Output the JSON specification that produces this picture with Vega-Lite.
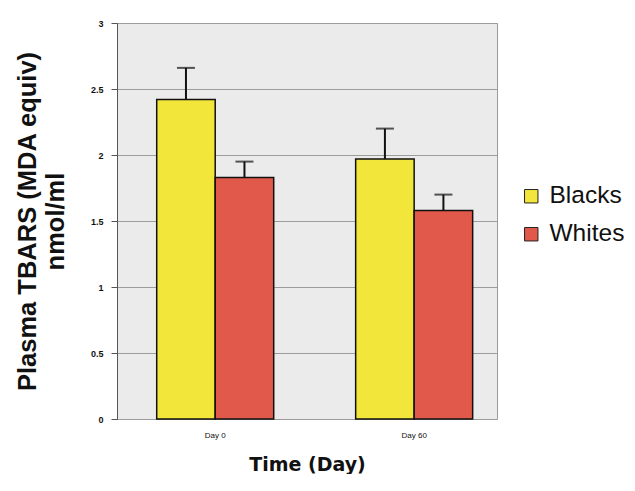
{
  "$schema": "https://vega.github.io/schema/vega-lite/v6.json",
  "width": 380,
  "height": 396,
  "padding": {"left": 15, "top": 19, "right": 0, "bottom": 0},
  "background": "white",
  "config": {
    "font": "Liberation Sans",
    "view": {"fill": "#ebebeb", "stroke": "#9a9a9a", "strokeWidth": 1}
  },
  "data": {
    "values": [
      {"day": "Day 0", "group": "Blacks", "mean": 2.42, "upper": 2.66},
      {"day": "Day 0", "group": "Whites", "mean": 1.83, "upper": 1.95},
      {"day": "Day 60", "group": "Blacks", "mean": 1.97, "upper": 2.2},
      {"day": "Day 60", "group": "Whites", "mean": 1.58, "upper": 1.7}
    ]
  },
  "encoding": {
    "x": {
      "field": "day",
      "type": "nominal",
      "scale": {"paddingInner": 0.412, "paddingOuter": 0.161, "align": 0.62},
      "axis": {
        "title": "Time (Day)",
        "titleFont": "DejaVu Sans",
        "titleFontSize": 19,
        "titleFontWeight": "bold",
        "titleColor": "#111",
        "titlePadding": 16,
        "labelAngle": 0,
        "labelFontSize": 8,
        "labelColor": "#111",
        "labelPadding": 12,
        "ticks": false,
        "domain": false
      }
    },
    "xOffset": {"field": "group", "type": "nominal", "scale": {"paddingInner": 0}}
  },
  "layer": [
    {
      "mark": {"type": "bar", "stroke": "#111", "strokeWidth": 1.5},
      "encoding": {
        "y": {
          "field": "mean",
          "type": "quantitative",
          "scale": {"domain": [0, 3]},
          "axis": {
            "title": ["Plasma TBARS (MDA equiv)", "nmol/ml"],
            "titleFontSize": 25.5,
            "titleFontWeight": "bold",
            "titleColor": "#111",
            "titlePadding": 22,
            "titleLineHeight": 28,
            "values": [0, 0.5, 1, 1.5, 2, 2.5, 3],
            "format": "~g",
            "labelFontSize": 9,
            "labelFontWeight": "bold",
            "labelColor": "#111",
            "labelPadding": 8,
            "tickSize": 6,
            "tickColor": "#555",
            "gridColor": "#9c9c9c",
            "gridWidth": 1.2,
            "domainColor": "#555"
          }
        },
        "color": {
          "field": "group",
          "type": "nominal",
          "scale": {"domain": ["Blacks", "Whites"], "range": ["#f3e63a", "#e0594a"]},
          "legend": {
            "title": null,
            "orient": "none",
            "legendX": 402,
            "legendY": 161,
            "symbolType": "square",
            "symbolSize": 180,
            "symbolStrokeColor": "#222",
            "symbolStrokeWidth": 1,
            "labelFontSize": 24.5,
            "labelColor": "#111",
            "labelOffset": 6,
            "rowPadding": 13
          }
        }
      }
    },
    {
      "mark": {"type": "rule", "color": "#111", "strokeWidth": 2},
      "encoding": {
        "y": {"field": "mean", "type": "quantitative"},
        "y2": {"field": "upper"}
      }
    },
    {
      "mark": {"type": "tick", "color": "#111", "thickness": 2, "size": 18},
      "encoding": {
        "y": {"field": "upper", "type": "quantitative"}
      }
    }
  ]
}
